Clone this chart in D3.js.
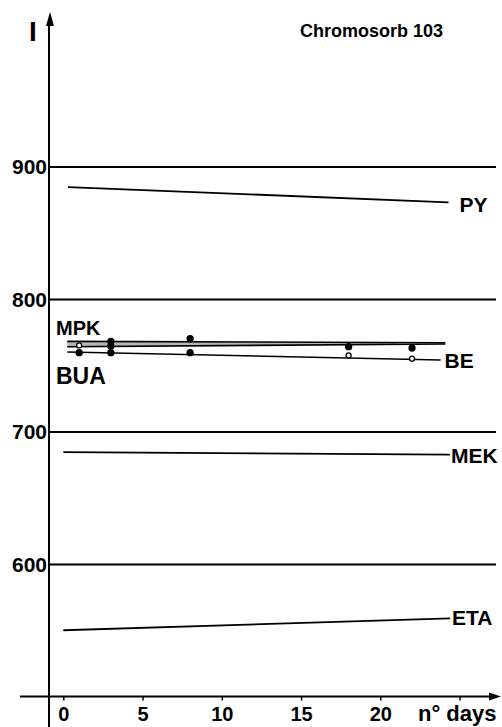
<!DOCTYPE html>
<html>
<head>
<meta charset="utf-8">
<script src="https://cdn.jsdelivr.net/npm/d3@7"></script>
<style>
  html, body { margin: 0; padding: 0; background: #fff; }
  svg text { font-family: "Liberation Sans", Arial, Helvetica, sans-serif; font-weight: bold; fill: #000; }
</style>
</head>
<body>
<svg id="chart" width="502" height="727"></svg>
<script>
// ---- data ----
const compounds   = ["PY", "MPK", "BUA", "BE", "MEK", "ETA"];
const fitStartDay = [0.3, 0.25, 0.25, 0.25, 0, 0];
const fitEndDay   = [24.3, 24.1, 24.1, 23.8, 24.4, 24.4];
const fitStartI   = [884.5, 768, 764, 760, 684.5, 550];
const fitEndI     = [873, 767, 766, 754, 682.5, 559];

const pointDays   = [1, 3, 8, 18, 22];
const mpkPoints   = [null, 768, 770, null, null];
const buaPoints   = [765, 764.5, null, 764, 763];
const bePoints    = [759.5, 759.5, 759.5, 757.5, 755];
const buaOpen     = [true, false, false, false, false];
const beOpen      = [false, false, false, true, true];

const yTicks = [600, 700, 800, 900];
const xTicks = [0, 5, 10, 15, 20, 25];
const xTickLabels = ["0", "5", "10", "15", "20", ""];

// ---- scales ----
const svg = d3.select("#chart");
const x = d3.scaleLinear().domain([0, 25]).range([63.3, 459.6]);
const y = d3.scaleLinear().domain([500, 900]).range([696.5, 166.5]);
const axisX = 49;

// gridlines + y labels
const gy = svg.append("g").attr("transform", `translate(${axisX},0)`)
  .call(d3.axisLeft(y).tickValues(yTicks).tickSize(-447).tickPadding(2).tickFormat(d3.format("d")));
gy.select(".domain").remove();
gy.selectAll(".tick line").attr("stroke", "#000").attr("stroke-width", 2);
gy.selectAll(".tick text").attr("font-size", 21).attr("font-family", "Liberation Sans, Arial, sans-serif")
  .attr("font-weight", "bold").attr("fill", "#000").attr("dy", "0.34em");

// x axis
const gx = svg.append("g").attr("transform", `translate(0,${y(500)})`)
  .call(d3.axisBottom(x).tickValues(xTicks).tickSize(4).tickPadding(6)
    .tickFormat((d, i) => xTickLabels[i]));
gx.select(".domain").remove();
gx.selectAll(".tick line").attr("stroke", "#000").attr("stroke-width", 1.5);
gx.selectAll(".tick text").attr("font-size", 20).attr("font-family", "Liberation Sans, Arial, sans-serif")
  .attr("font-weight", "bold").attr("fill", "#000");

// axis lines with arrows
svg.append("line").attr("x1", 20).attr("x2", 494).attr("y1", y(500)).attr("y2", y(500))
  .attr("stroke", "#000").attr("stroke-width", 2);
svg.append("path").attr("d", `M501,${y(500)} L489,${y(500) - 4} L489,${y(500) + 4} Z`).attr("fill", "#000");
svg.append("line").attr("x1", axisX).attr("x2", axisX).attr("y1", 727).attr("y2", 22)
  .attr("stroke", "#000").attr("stroke-width", 2);
svg.append("path").attr("d", `M${axisX + 1},12 L${axisX - 3},26 L${axisX + 5},26 Z`).attr("fill", "#000");

// hatched band between MPK and BUA fits
const iMPK = compounds.indexOf("MPK"), iBUA = compounds.indexOf("BUA");
const lerp = (i, d) => fitStartI[i] + (fitEndI[i] - fitStartI[i]) * (d - fitStartDay[i]) / (fitEndDay[i] - fitStartDay[i]);
const bandDays = [fitStartDay[iMPK], 21];
svg.append("path")
  .datum(bandDays)
  .attr("d", d3.area().x(d => x(d)).y0(d => y(lerp(iBUA, d))).y1(d => y(lerp(iMPK, d))))
  .attr("fill", "#b5b5b5");

// fitted lines
const line = d3.line().x(d => x(d[0])).y(d => y(d[1]));
compounds.forEach((c, i) => {
  svg.append("path")
    .datum([[fitStartDay[i], fitStartI[i]], [fitEndDay[i], fitEndI[i]]])
    .attr("d", line)
    .attr("fill", "none").attr("stroke", "#000")
    .attr("stroke-width", (c === "MPK" || c === "BUA" || c === "BE") ? 1.6 : 1.8);
});

// points
function drawPoints(vals, openFlags) {
  vals.forEach((v, k) => {
    if (v === null) return;
    const open = openFlags ? openFlags[k] : false;
    svg.append("circle").attr("cx", x(pointDays[k])).attr("cy", y(v)).attr("r", open ? 2.5 : 3)
      .attr("fill", open ? "#fff" : "#000").attr("stroke", "#000").attr("stroke-width", 1.3);
  });
}
drawPoints(mpkPoints, null);
drawPoints(buaPoints, buaOpen);
drawPoints(bePoints, beOpen);

// labels
const lab = (t, px, py, fs) => svg.append("text").attr("x", px).attr("y", py).attr("font-size", fs).text(t);
lab("PY",  x(fitEndDay[0]) + 11, y(fitEndI[0]) + 10, 21);
lab("BE",  x(fitEndDay[3]) + 4, y(fitEndI[3]) + 8, 21);
lab("MEK", x(fitEndDay[4]) + 1, y(fitEndI[4]) + 8, 21);
lab("ETA", x(fitEndDay[5]) + 2, y(fitEndI[5]) + 7, 21);
lab("MPK", 56, 335, 20);
lab("BUA", 56, 384, 23);
lab("I", 29, 41, 28);
lab("Chromosorb 103", 300, 37, 18);
svg.append("text").attr("x", 418).attr("y", 721).attr("font-size", 22).text("n° days");
</script>
</body>
</html>
